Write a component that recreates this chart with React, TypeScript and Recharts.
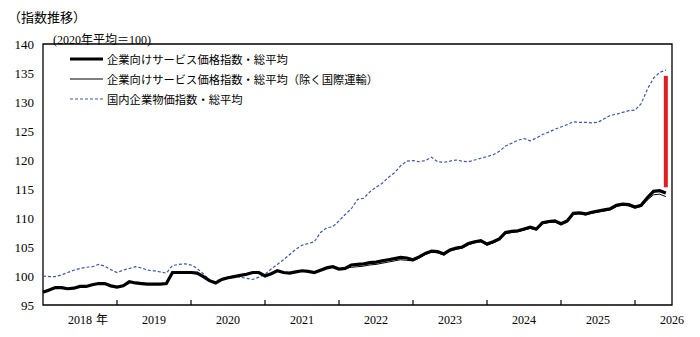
import {
  LineChart,
  Line,
  XAxis,
  YAxis,
  Legend,
  ReferenceArea,
  ReferenceLine,
} from "recharts";

// monthly index values, Jan 2018 onward (2020 average = 100)
const sppi = [
  97.2, 97.6, 98.0, 98.0, 97.8, 97.9, 98.2, 98.2, 98.5, 98.7, 98.7, 98.3,
  98.1, 98.3, 99.0, 98.8, 98.7, 98.6, 98.6, 98.6, 98.7, 100.6, 100.6, 100.6,
  100.6, 100.5, 99.9, 99.2, 98.8, 99.4, 99.7, 99.9, 100.1, 100.3, 100.6, 100.6,
  100.0, 100.4, 100.9, 100.6, 100.5, 100.7, 100.9, 100.8, 100.6, 101.0, 101.4, 101.6,
  101.2, 101.3, 101.9, 102.0, 102.1, 102.3, 102.4, 102.6, 102.8, 103.0, 103.2, 103.1,
  102.8, 103.3, 103.9, 104.3, 104.2, 103.8, 104.5, 104.8, 105.0, 105.6, 105.9, 106.1,
  105.5, 105.9, 106.4, 107.5, 107.7, 107.8, 108.1, 108.4, 108.1, 109.2, 109.4, 109.5,
  109.0, 109.5, 110.8, 110.9, 110.7, 111.0, 111.2, 111.4, 111.6, 112.2, 112.4, 112.3,
  111.9, 112.2, 113.5, 114.6, 114.7, 114.3,
];

const sppiExIntl = [
  97.2, 97.6, 98.0, 98.0, 97.8, 97.9, 98.2, 98.2, 98.5, 98.7, 98.7, 98.3,
  98.1, 98.3, 99.0, 98.8, 98.7, 98.6, 98.6, 98.6, 98.7, 100.6, 100.6, 100.6,
  100.6, 100.5, 99.9, 99.2, 98.8, 99.4, 99.7, 99.9, 100.1, 100.3, 100.6, 100.6,
  100.0, 100.4, 100.9, 100.6, 100.5, 100.7, 100.9, 100.8, 100.6, 101.0, 101.4, 101.6,
  101.2, 101.3, 101.5, 101.6, 101.7, 101.9, 102.0, 102.2, 102.4, 102.6, 102.8, 102.7,
  102.6, 103.1, 103.7, 104.1, 104.0, 103.6, 104.3, 104.6, 104.8, 105.4, 105.7, 105.9,
  105.3, 105.7, 106.2, 107.3, 107.5, 107.6, 107.9, 108.2, 107.9, 109.0, 109.2, 109.3,
  108.8, 109.3, 110.6, 110.7, 110.5, 110.8, 111.0, 111.2, 111.4, 112.0, 112.2, 112.1,
  111.7, 112.0, 113.1, 114.0, 114.1, 113.7,
];

const cgpi = [
  100.0, 99.9, 99.9, 100.2, 100.6, 101.0, 101.3, 101.5, 101.6, 102.0, 101.7, 101.1,
  100.6, 101.0, 101.3, 101.6, 101.4, 101.0, 100.9, 100.7, 100.5, 101.8, 102.0, 102.1,
  101.9, 101.3, 100.4, 99.3, 99.0, 99.6, 99.8, 100.0, 99.8, 99.6, 99.4, 99.8,
  100.3, 101.2, 102.0, 102.8, 103.7, 104.6, 105.3, 105.6, 105.9, 107.5, 108.3, 108.5,
  109.5, 110.6, 111.6, 113.2, 113.4, 114.5, 115.3, 116.0, 117.0, 117.8, 119.0, 119.8,
  119.9, 119.7, 119.9, 120.5, 119.7, 119.6, 119.8, 120.0, 119.8, 119.7, 120.0, 120.3,
  120.6, 120.9, 121.5, 122.4, 122.9, 123.4, 123.7, 123.3, 123.8, 124.4, 124.8, 125.3,
  125.7, 126.1, 126.6, 126.5, 126.5, 126.4, 126.5, 127.1, 127.7, 127.9, 128.2, 128.5,
  128.6, 129.7, 132.2, 134.1, 135.1, 135.5,
];

const seriesNames = [
  "企業向けサービス価格指数・総平均",
  "企業向けサービス価格指数・総平均（除く国際運輸）",
  "国内企業物価指数・総平均",
];

const years = ["2018", "2019", "2020", "2021", "2022", "2023", "2024", "2025", "2026"];
const yTicks = [95, 100, 105, 110, 115, 120, 125, 130, 135, 140];

// red marker for the latest gap between the two indices
const gapTop = 134.5;
const gapBottom = 115.3;

const data = sppi.map((v, i) => ({
  m: i,
  sppi: v,
  sppiEx: sppiExIntl[i],
  cgpi: cgpi[i],
}));

const lastMonth = sppi.length - 1;
const xEnd = years.length * 12 - 6;
// mid-year points carry the year labels, Januaries carry the tick marks
const xTicks = years.flatMap((_, k) => (k === 0 ? [6] : [12 * k, 12 * k + 6]));

const serif = "'Liberation Serif', 'Noto Sans CJK JP', serif";
const sans = "'Noto Sans CJK JP', sans-serif";

function YearTick({ x, y, payload }: any) {
  const v = payload.value as number;
  if (v % 12 === 0) {
    return <line x1={x} x2={x} y1={y} y2={y - 5} stroke="#000" strokeWidth={1.2} />;
  }
  const label = years[(v - 6) / 12];
  return (
    <g>
      <text x={x} y={y + 19} textAnchor="middle" fontSize={12} fontFamily={serif} fill="#000">
        {label}
      </text>
      {v === 6 && (
        <text x={x + 16} y={y + 19} fontSize={12} fontFamily={sans} fill="#000">
          年
        </text>
      )}
    </g>
  );
}

function LegendBox() {
  const samples = [
    { stroke: "#000", width: 3.2, dash: undefined },
    { stroke: "#000", width: 1.2, dash: undefined },
    { stroke: "#3a58a8", width: 1.2, dash: "3 2" },
  ];
  return (
    <svg width={330} height={60}>
      {seriesNames.map((name, i) => (
        <g key={name}>
          <line
            x1={4}
            x2={37}
            y1={10 + i * 20}
            y2={10 + i * 20}
            stroke={samples[i].stroke}
            strokeWidth={samples[i].width}
            strokeDasharray={samples[i].dash}
          />
          <text
            x={41}
            y={10 + i * 20}
            dominantBaseline="central"
            fontSize={11.3}
            fontFamily={sans}
            fill="#000"
          >
            {name}
          </text>
        </g>
      ))}
    </svg>
  );
}

export default function App() {
  return (
    <div style={{ position: "absolute", left: 0, top: 0, width: 700, height: 337, background: "#fff" }}>
      <div
        style={{
          position: "absolute",
          left: 8,
          top: 7,
          fontSize: 13,
          fontFamily: sans,
          color: "#000",
        }}
      >
        （指数推移）
      </div>
      <div
        style={{
          position: "absolute",
          left: 53,
          top: 30,
          fontSize: 12,
          fontFamily: serif,
          color: "#000",
        }}
      >
        (2020年平均＝100)
      </div>
      <LineChart
        width={700}
        height={337}
        data={data}
        margin={{ top: 44, right: 28, bottom: 2, left: 0 }}
      >
        <XAxis
          dataKey="m"
          type="number"
          domain={[0, xEnd]}
          ticks={xTicks}
          interval={0}
          tick={<YearTick />}
          tickLine={false}
          axisLine={false}
          tickSize={0}
          tickMargin={0}
          height={30}
        />
        <YAxis
          type="number"
          domain={[95, 140]}
          ticks={yTicks}
          interval={0}
          width={43}
          tickLine={false}
          axisLine={false}
          tickSize={0}
          tickMargin={9}
          tick={{ fill: "#000", fontSize: 13, fontFamily: serif }}
        />
        <ReferenceArea
          x1={0}
          x2={xEnd}
          y1={95}
          y2={140}
          fill="none"
          stroke="#000"
          strokeWidth={1.3}
        />
        <Line
          type="linear"
          dataKey="cgpi"
          stroke="#3a58a8"
          strokeWidth={1.2}
          strokeDasharray="3 2"
          dot={false}
          isAnimationActive={false}
        />
        <Line
          type="linear"
          dataKey="sppi"
          stroke="#000"
          strokeWidth={3.2}
          dot={false}
          isAnimationActive={false}
        />
        <Line
          type="linear"
          dataKey="sppiEx"
          stroke="#000"
          strokeWidth={1}
          dot={false}
          isAnimationActive={false}
        />
        <ReferenceLine
          segment={[
            { x: lastMonth, y: gapTop },
            { x: lastMonth, y: gapBottom },
          ]}
          stroke="#e01e22"
          strokeWidth={4}
        />
        <Legend
          layout="vertical"
          align="center"
          verticalAlign="middle"
          content={<LegendBox />}
          wrapperStyle={{ top: 49, left: 66, width: 330, height: 60 }}
        />
      </LineChart>
    </div>
  );
}
